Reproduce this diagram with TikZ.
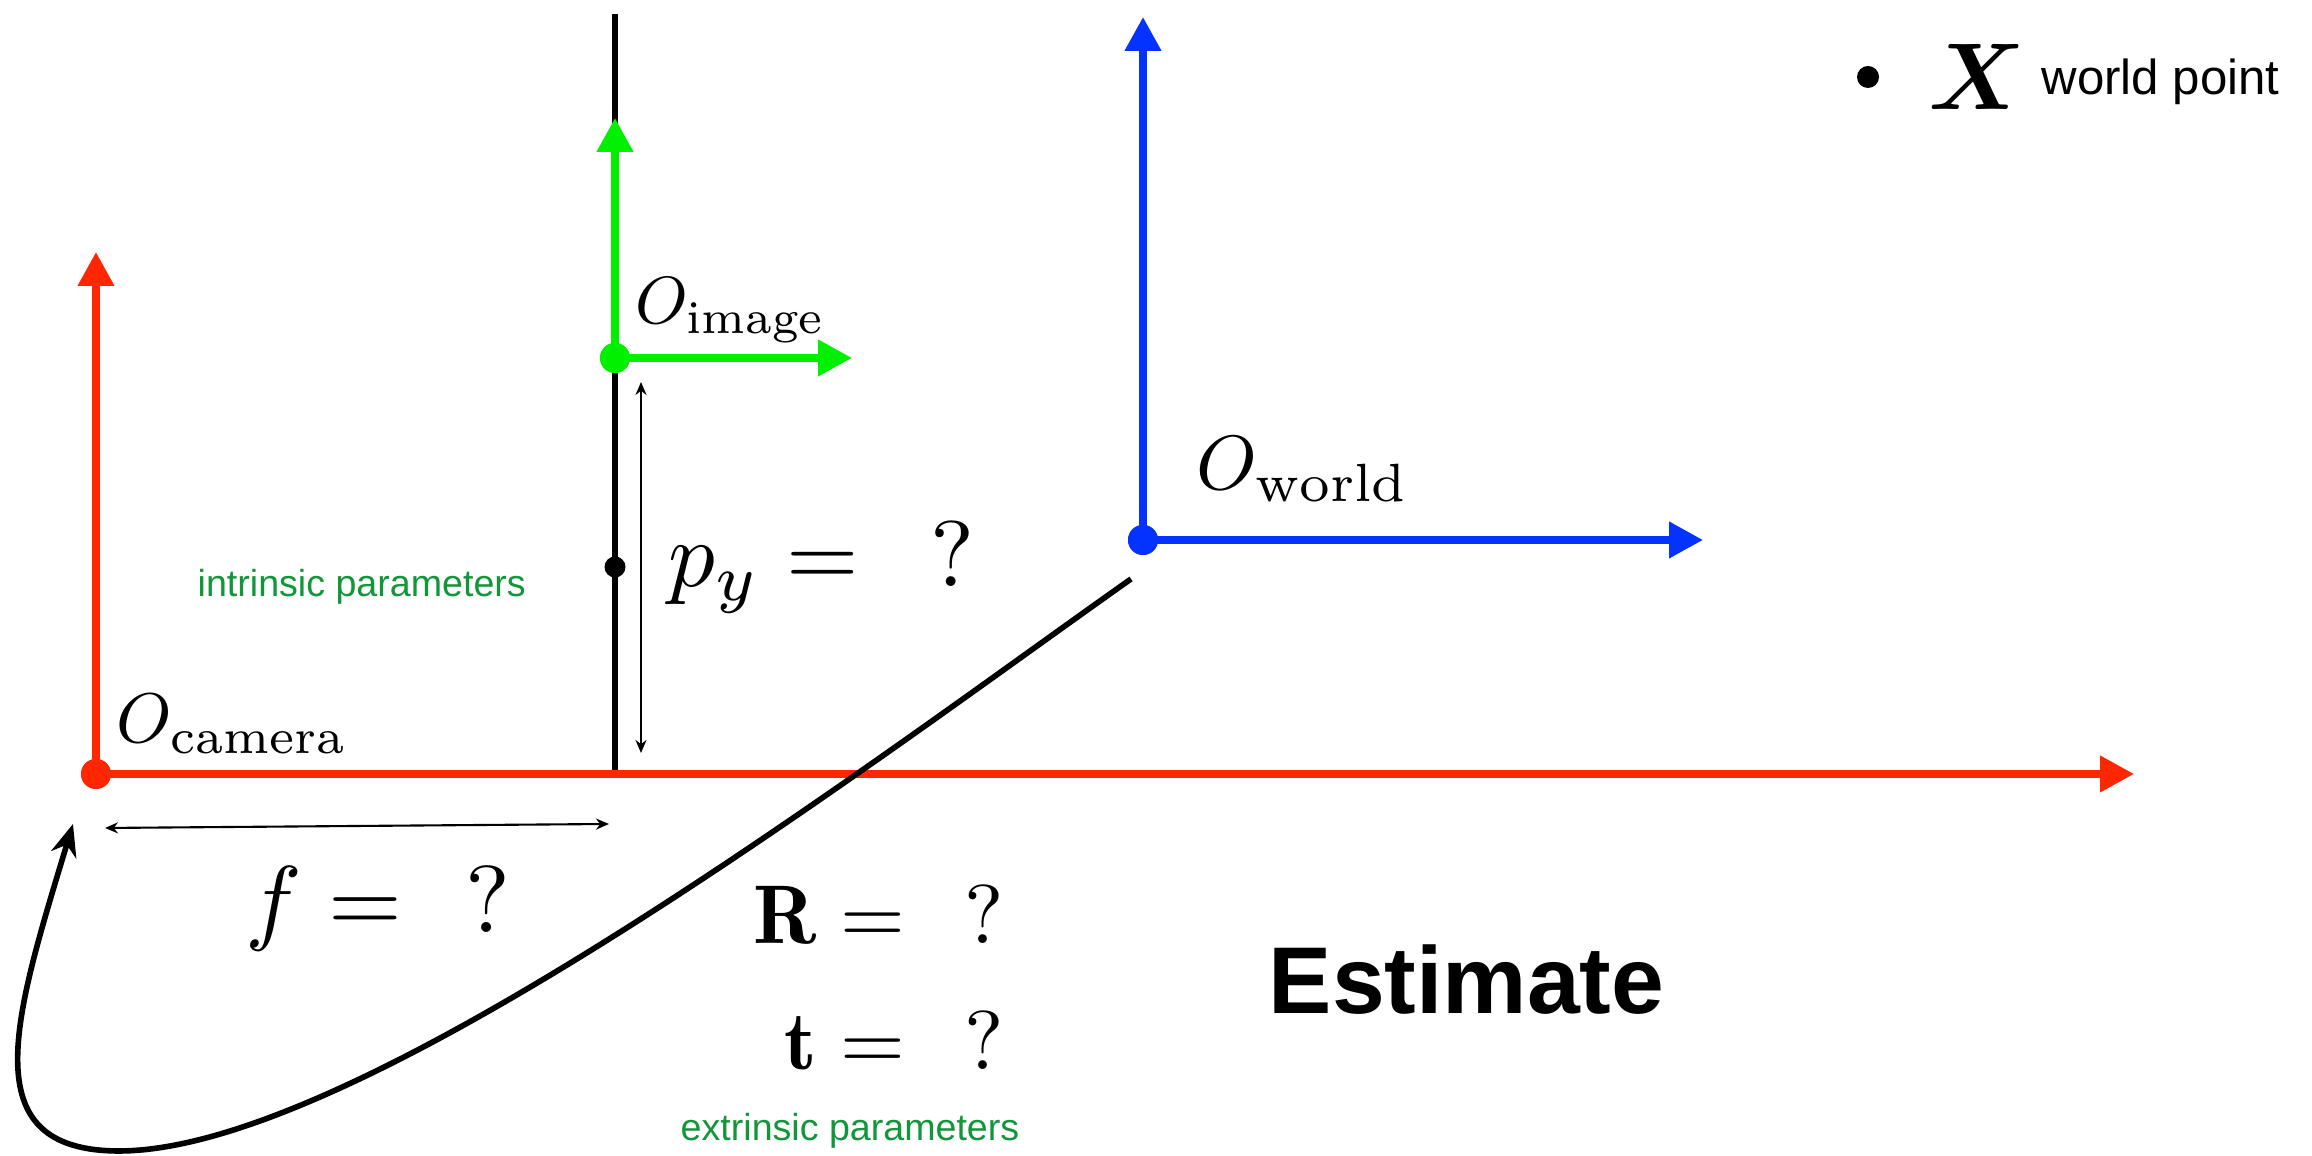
\documentclass[tikz,border=0pt]{standalone}
\usepackage{amsmath}
\usepackage{graphicx}
\usepackage{fontspec}
\newfontfamily\lsans{Liberation Sans}
\usetikzlibrary{arrows.meta}
\definecolor{cred}{HTML}{FF2600}
\definecolor{cgreen}{HTML}{00F000}
\definecolor{cblue}{HTML}{0433FF}
\definecolor{cparam}{HTML}{12963A}
\newcommand{\eqn}[2]{\scalebox{#1}{$#2$}}
\newcommand{\unknown}[1][12]{\mkern#1mu ?}
\tikzset{
  axis/.style={draw=#1, line width=2.1pt, -{Triangle[length=3.4mm, width=3.5mm]}},
  origin/.style={circle, fill=#1, inner sep=0pt, minimum size=3mm},
  origin/.default=black,
  dim/.style={{Stealth[length=1.3mm, width=1.1mm]}-{Stealth[length=1.3mm, width=1.1mm]}, line width=0.6pt},
  plane/.style={draw=black, line width=1.5pt},
  ray/.style={-{Stealth[length=3.2mm, width=2.6mm]}, line width=1.6pt},
  lbl/.style={inner sep=0pt, anchor=base west},
  param/.style={inner sep=0pt, anchor=base west, text=cparam, font=\lsans\fontsize{10.7}{13}\selectfont},
}

\begin{document}
\begin{tikzpicture}
  \useasboundingbox (0,0) rectangle (23.12,11.56);
  \coordinate (camx) at (21.34,3.82);
  \coordinate (camy) at (0.96,9.04);
  \coordinate (ptop) at (6.15,11.42);
  \coordinate (pbot) at (6.15,3.82);
  \coordinate (imgx) at (8.52,7.98);
  \coordinate (imgy) at (6.15,10.38);
  \coordinate (worldx) at (17.03,6.16);
  \coordinate (worldy) at (11.43,11.39);
  \coordinate (ftail) at (1.05,3.28);
  \coordinate (fhead) at (6.09,3.32);
  \coordinate (pytop) at (6.41,7.74);
  \coordinate (pybot) at (6.41,4.03);
  \coordinate (rtail) at (11.31,5.77);
  \coordinate (rlow) at (1.19,0.05);
  \coordinate (rhead) at (0.73,3.32);
  \draw[plane] (pbot) -- (ptop);
  \node[origin=cred] (cam) at (0.96,3.82) {};
  \node[origin=cgreen] (img) at (6.15,7.98) {};
  \node[origin=cblue] (world) at (11.43,6.16) {};
  \node[origin, minimum size=2.1mm] (pp) at (6.15,5.89) {};
  \draw[axis=cred] (cam.center) -- (camx);
  \draw[axis=cred] (cam.center) -- (camy);
  \draw[axis=cgreen] (img.center) -- (imgx);
  \draw[axis=cgreen] (img.center) -- (imgy);
  \draw[axis=cblue] (world.center) -- (worldx);
  \draw[axis=cblue] (world.center) -- (worldy);
  \node[origin=cred] at (cam) {};
  \node[origin=cgreen] at (img) {};
  \node[origin=cblue] at (world) {};
  \draw[dim] (ftail) -- (fhead);
  \draw[dim] (pytop) -- (pybot);
  \draw[ray] (rtail) .. controls (8.8,4.0) and (3.6,0.05) .. (rlow)
    .. controls (-0.3,0.05) and (0.15,1.4) .. (rhead);
  \node[lbl] (lcam) at (1.16,4.13) {\eqn{2.0}{O_{\mathrm{camera}}}};
  \node[lbl] (limg) at (6.35,8.32) {\eqn{1.9}{O_{\mathrm{image}}}};
  \node[lbl] (lworld) at (11.96,6.66) {\eqn{2.19}{O_{\mathrm{world}}}};
  \node[lbl] (py) at (6.68,5.69) {\eqn{2.65}{p_y = \unknown[14]}};
  \node[lbl] (f) at (2.45,2.23) {\eqn{2.7}{f = \unknown}};
  \node[lbl, anchor=base east] (rot) at (10.05,2.12) {\eqn{2.37}{\mathbf{R} = \unknown[13]}};
  \node[lbl, anchor=base east] (trans) at (10.05,0.86) {\eqn{2.37}{\mathbf{t} = \unknown[13]}};
  \node[param] (intr) at (1.97,5.59) {intrinsic parameters};
  \node[param] (extr) at (6.80,0.15) {extrinsic parameters};
  \node[lbl, font=\lsans\bfseries\fontsize{27}{32}\selectfont] (est) at (12.68,1.42) {Estimate};
  \node[origin, minimum size=2.2mm] (xdot) at (18.68,10.79) {};
  \node[lbl] (xsym) at (19.28,10.46) {\eqn{2.7}{\boldsymbol{X}}};
  \node[lbl, font=\lsans\fontsize{14}{17}\selectfont] (xtext) at (20.41,10.61) {world point};
\end{tikzpicture}
\end{document}
